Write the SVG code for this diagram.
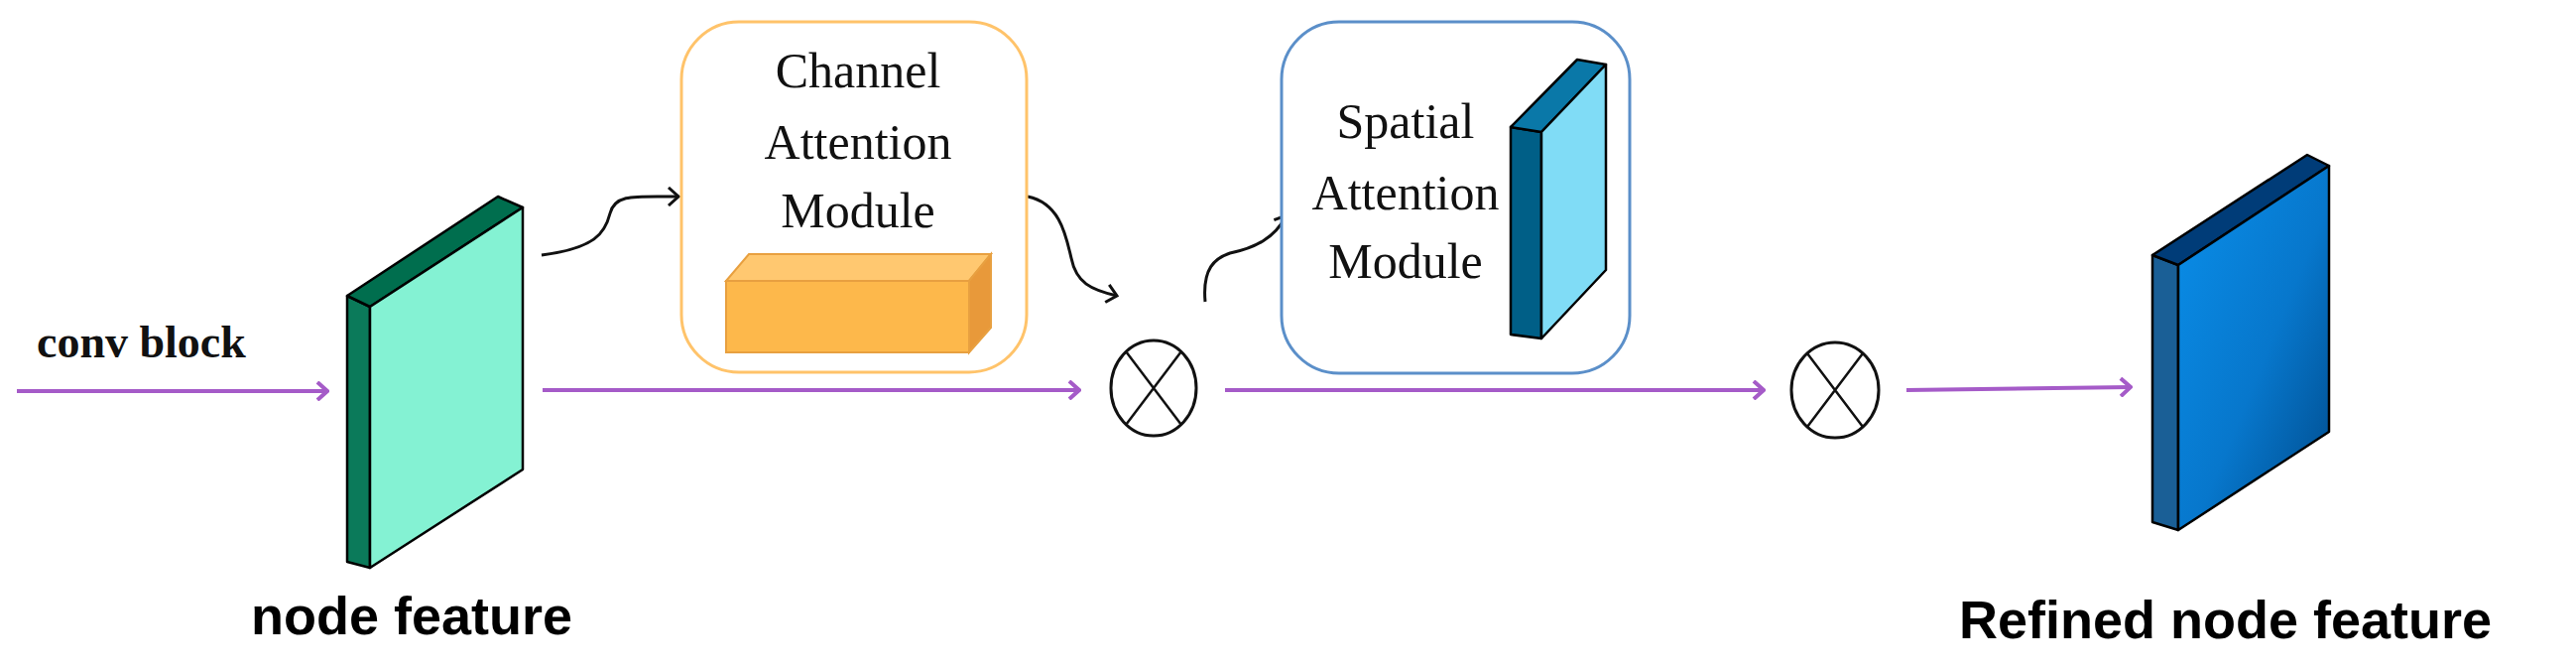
<svg xmlns="http://www.w3.org/2000/svg" width="2597" height="677" viewBox="0 0 2597 677">
<defs>
<style>
.pl{stroke:#A55BC8;stroke-width:4;fill:none}
.cv{stroke:#111;stroke-width:3;fill:none}
.ed{stroke:#000;stroke-width:2.5;stroke-linejoin:round}
.ser{font-family:"Liberation Serif",serif;font-size:50px;text-anchor:middle;fill:#111}
.lab{font-family:"Liberation Sans",Arial,sans-serif;font-weight:bold;font-size:54px;fill:#000}
</style>
<marker id="pa" markerWidth="14" markerHeight="20" refX="12" refY="10" orient="auto" markerUnits="userSpaceOnUse"><path d="M2,1 L12,10 L2,19" fill="none" stroke="#A55BC8" stroke-width="4"/></marker>
<marker id="ba" markerWidth="14" markerHeight="20" refX="12" refY="10" orient="auto" markerUnits="userSpaceOnUse"><path d="M2,1 L12,10 L2,19" fill="none" stroke="#111" stroke-width="3"/></marker>
<linearGradient id="bg" x1="0" y1="0" x2="1" y2="1"><stop offset="0" stop-color="#0A8FEA"/><stop offset="0.55" stop-color="#0777CC"/><stop offset="1" stop-color="#004A8A"/></linearGradient>
</defs>
<g id="connectors">
<path class="pl" d="M17,394 L330,394" marker-end="url(#pa)"/>
<path class="pl" d="M547,393 L1088,393" marker-end="url(#pa)"/>
<path class="pl" d="M1235,393 L1778,393" marker-end="url(#pa)"/>
<path class="pl" d="M1922,393 L2148,390" marker-end="url(#pa)"/>
<path class="cv" d="M546,257 C600,250 610,235 615,215 C620,195 640,198 684,198" marker-end="url(#ba)"/>
<path class="cv" d="M1036,198 C1070,205 1075,240 1080,260 C1085,285 1100,292 1126,298" marker-end="url(#ba)"/>
<path class="cv" d="M1215,304 C1212,270 1225,260 1240,255 C1265,250 1285,240 1297,217" marker-end="url(#ba)"/>
</g>
<g id="node-feature">
<polygon class="ed" points="373,309 350,298 350,566 373,572" fill="#0B7A5A"/>
<polygon class="ed" points="350,298 502,198 527,209 373,309" fill="#006E4E"/>
<polygon class="ed" points="373,309 527,209 527,473 373,572" fill="#84F2D3"/>
</g>
<text class="ser" x="37" y="360" style="text-anchor:start;font-weight:bold;font-size:46px">conv block</text>
<text class="lab" x="253" y="639">node feature</text>
<g id="channel-attention">
<rect x="687" y="22" width="348" height="353" rx="58" fill="#fff" stroke="#FFC36A" stroke-width="3"/>
<text class="ser" x="865" y="88">Channel</text>
<text class="ser" x="865" y="160">Attention</text>
<text class="ser" x="865" y="229">Module</text>
<polygon points="732,283 755,256 999,256 977,283" fill="#FFC870" stroke="#E8A040" stroke-width="2"/>
<polygon points="977,283 999,256 999,330 977,355" fill="#E8993A" stroke="#E8A040" stroke-width="2"/>
<rect x="732" y="283" width="245" height="72" fill="#FDB84B" stroke="#E8A040" stroke-width="2"/>
</g>
<g id="mul1"><ellipse cx="1163" cy="391" rx="43" ry="48" fill="#fff" stroke="#111" stroke-width="3"/><path d="M1135,354 L1191,428 M1191,354 L1135,428" stroke="#111" stroke-width="2.5"/></g>
<g id="spatial-attention">
<rect x="1292" y="22" width="351" height="354" rx="58" fill="#fff" stroke="#5B8FC9" stroke-width="3"/>
<text class="ser" x="1417" y="139">Spatial</text>
<text class="ser" x="1417" y="211">Attention</text>
<text class="ser" x="1417" y="280">Module</text>
<polygon class="ed" points="1554,133 1523,128 1523,337 1554,341" fill="#005F87"/>
<polygon class="ed" points="1523,128 1590,60 1619,65 1554,133" fill="#0A78A8"/>
<polygon class="ed" points="1554,133 1619,65 1619,272 1554,341" fill="#80DCF6"/>
</g>
<g id="mul2"><ellipse cx="1850" cy="393" rx="44" ry="48" fill="#fff" stroke="#111" stroke-width="3"/><path d="M1822,356 L1878,430 M1878,356 L1822,430" stroke="#111" stroke-width="2.5"/></g>
<g id="refined-feature">
<polygon class="ed" points="2196,267 2170,257 2170,526 2196,534" fill="#1A5F96"/>
<polygon class="ed" points="2170,257 2326,156 2348,167 2196,267" fill="#003C78"/>
<polygon class="ed" points="2196,267 2348,167 2348,435 2196,534" fill="url(#bg)"/>
</g>
<text class="lab" x="1975" y="643">Refined node feature</text>
</svg>
